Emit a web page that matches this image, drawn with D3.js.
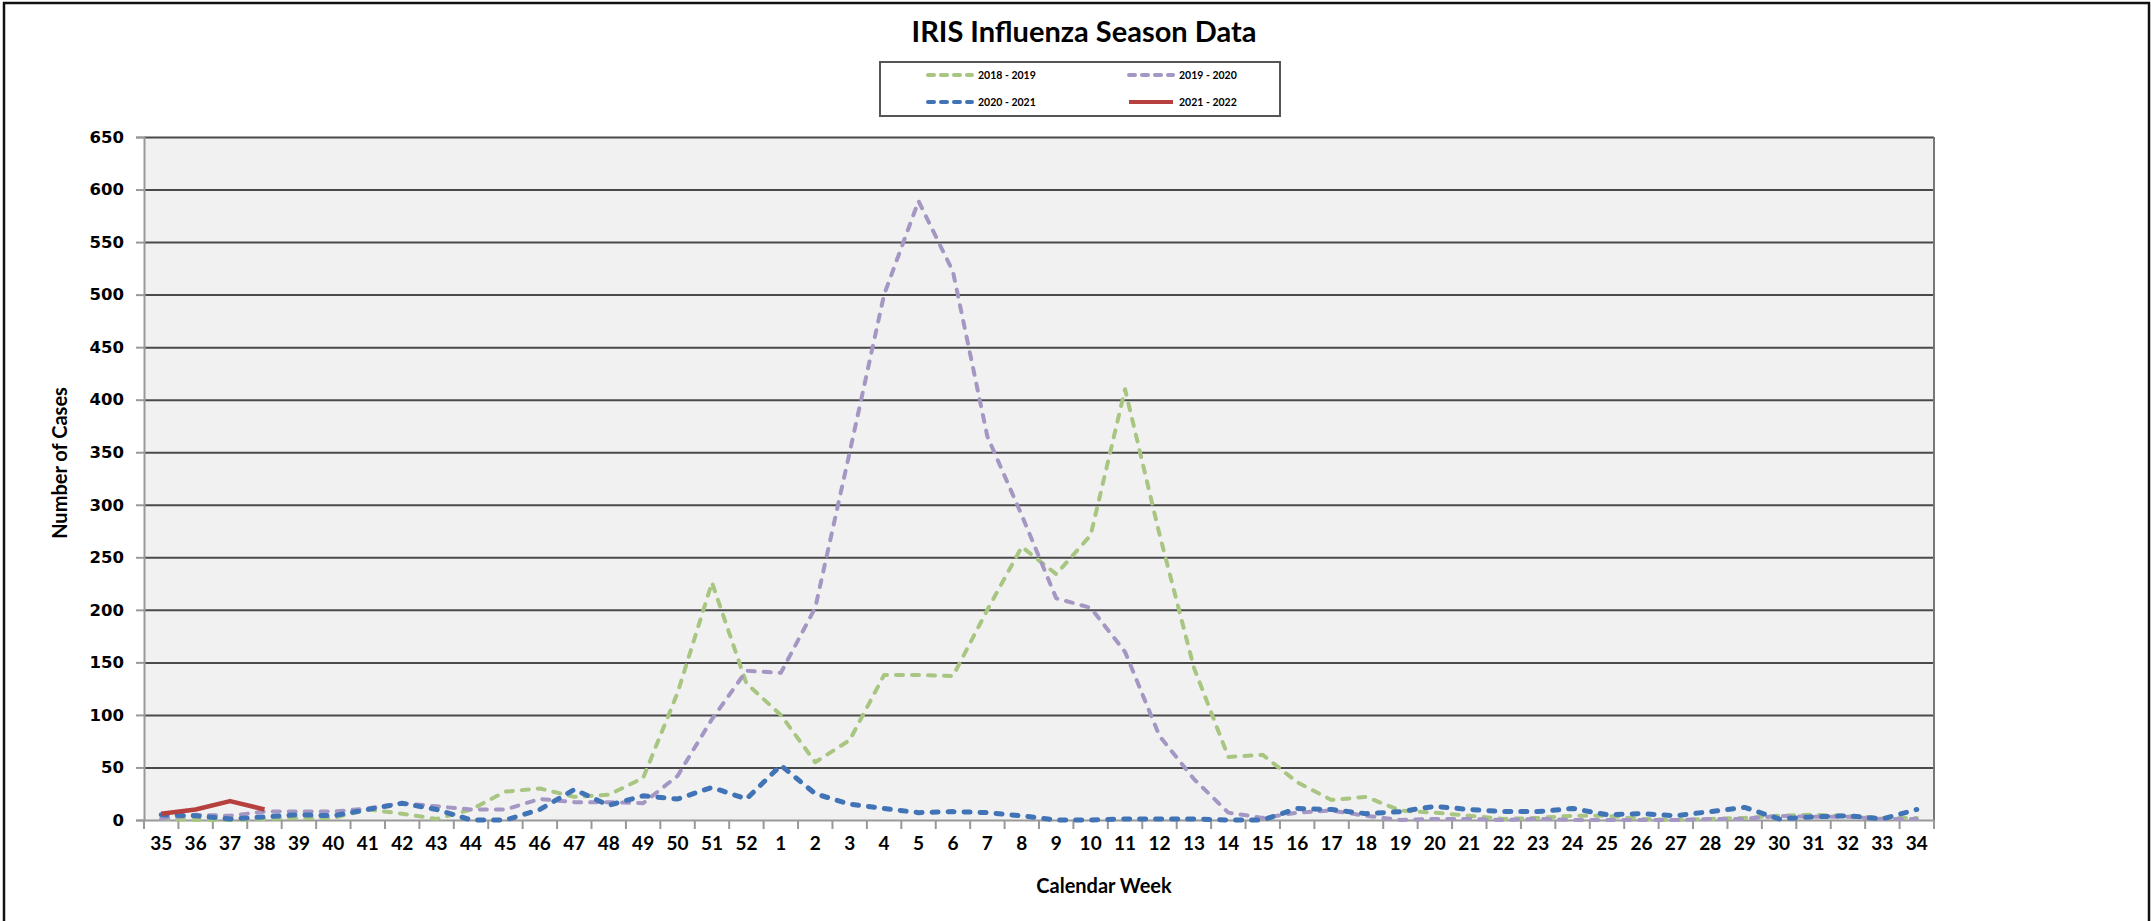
<!DOCTYPE html>
<html lang="en">
 <head>
  <meta charset="UTF-8">
  <title>IRIS Influenza Season Data</title>
  <style>
    body { margin: 0; background: #fff; }
    svg text { font-family: Lato, "Open Sans", sans-serif; font-weight: bold; fill: #000; }
  </style>
 </head>
 <body>
<svg width="2151" height="921"></svg>

<script src="https://cdn.jsdelivr.net/npm/d3@7/dist/d3.min.js"></script>
<script>
// calendar weeks of a season, 35 .. 52 then 1 .. 34
var weeks = [35,36,37,38,39,40,41,42,43,44,45,46,47,48,49,50,51,52,
             1,2,3,4,5,6,7,8,9,10,11,12,13,14,15,16,17,18,19,20,
             21,22,23,24,25,26,27,28,29,30,31,32,33,34];

var s2018 = [1,0,0,1,2,2,10,6,1,10,27,30,22,24,40,121,226,130,
             100,55,76,138,138,137,200,260,234,271,410,272,145,60,62,36,19,22,9,7,
             4,1,2,4,4,1,0,1,2,4,5,4,2,2];
var s2019 = [1,5,4,8,8,8,11,16,13,10,10,20,17,17,16,42,96,142,
             140,202,350,500,589,522,365,290,211,202,160,80,39,7,2,7,9,4,0,1,
             1,0,1,0,0,0,0,1,1,4,3,3,1,1];
var s2020 = [5,4,1,3,5,4,10,16,10,0,0,10,29,14,23,20,31,20,
             52,25,15,11,7,8,7,4,0,0,1,1,1,0,0,11,10,6,8,13,
             10,8,8,11,5,6,4,8,12,1,3,4,1,10];
var s2021 = [6,10,18,10];

var yTicks = [0,50,100,150,200,250,300,350,400,450,500,550,600,650];

var seriesNames = ["2018 - 2019", "2019 - 2020", "2020 - 2021", "2021 - 2022"];
var seriesColors = ["#a8c682", "#a497c3", "#4174b6", "#b5403d"];

var svg = d3.select("svg");

// outer frame
svg.append("rect")
    .attr("x", 4).attr("y", 3).attr("width", 2145).attr("height", 940)
    .attr("fill", "none").attr("stroke", "#111").attr("stroke-width", 2.5);

var plotLeft = 144, plotRight = 1934, plotTop = 137, plotBottom = 820;

var x = d3.scaleBand().domain(weeks).range([plotLeft, plotRight]);
var y = d3.scaleLinear().domain([0, 650]).range([plotBottom, plotTop]);

// plot background
svg.append("rect")
    .attr("x", plotLeft).attr("y", plotTop)
    .attr("width", plotRight - plotLeft).attr("height", plotBottom - plotTop)
    .attr("fill", "#f1f1f1");

// gridlines
svg.append("g")
    .attr("transform", "translate(" + plotLeft + ",0)")
    .call(d3.axisLeft(y).tickValues(yTicks.slice(1)).tickSize(-(plotRight - plotLeft)).tickFormat(""))
    .call(function(g){
      g.select(".domain").remove();
      g.selectAll("line").attr("stroke", "#4a4a4a").attr("stroke-width", 2);
    });

// right border of plot
svg.append("line")
    .attr("x1", plotRight).attr("x2", plotRight).attr("y1", plotTop).attr("y2", plotBottom)
    .attr("stroke", "#777").attr("stroke-width", 2);

// y axis with small outside ticks
svg.append("g")
    .attr("transform", "translate(" + plotLeft + ",0)")
    .call(d3.axisLeft(y).tickValues(yTicks).tickSize(8).tickPadding(12))
    .call(function(g){
      g.select(".domain").attr("stroke", "#999").attr("stroke-width", 2);
      g.selectAll("line").attr("stroke", "#999").attr("stroke-width", 2);
      g.selectAll("text")
        .style("font-family", "'DejaVu Sans', Verdana, sans-serif")
        .style("font-weight", "bold")
        .attr("font-size", 16.5);
    });

// x axis: labels at band centres, ticks at band edges
svg.append("g")
    .attr("transform", "translate(0," + plotBottom + ")")
    .call(d3.axisBottom(x).tickSize(0).tickPadding(17))
    .call(function(g){
      g.select(".domain").attr("stroke", "#999").attr("stroke-width", 2);
      g.selectAll("text").attr("font-size", 19);
    });

var edges = weeks.map(function(w){ return x(w); }).concat([plotRight]);
svg.append("g").selectAll("line").data(edges).enter().append("line")
    .attr("x1", function(d){ return d; }).attr("x2", function(d){ return d; })
    .attr("y1", plotBottom).attr("y2", plotBottom + 9)
    .attr("stroke", "#999").attr("stroke-width", 2);

// lines
var line = d3.line()
    .x(function(d, i){ return x(weeks[i]) + x.bandwidth() / 2; })
    .y(function(d){ return y(d); });

var all = [s2018, s2019, s2020, s2021];
var dashes = ["7,9", "7,9", "6,10", null];
var widths = [4, 4, 5, 4.5];

all.forEach(function(s, k){
  svg.append("path")
    .datum(s)
    .attr("d", line)
    .attr("fill", "none")
    .attr("stroke", seriesColors[k])
    .attr("stroke-width", widths[k])
    .attr("stroke-dasharray", dashes[k])
    .attr("stroke-linecap", k < 3 ? "round" : "butt")
    .attr("stroke-linejoin", "round");
});

// title and axis titles
svg.append("text")
    .attr("x", 1084).attr("y", 42)
    .attr("text-anchor", "middle")
    .attr("font-size", 29)
    .text("IRIS Influenza Season Data");

svg.append("text")
    .attr("x", 1104).attr("y", 893)
    .attr("text-anchor", "middle")
    .attr("font-size", 20)
    .text("Calendar Week");

svg.append("text")
    .attr("transform", "translate(67,463) rotate(-90)")
    .attr("text-anchor", "middle")
    .attr("font-size", 20)
    .text("Number of Cases");

// legend
var legend = svg.append("g");
legend.append("rect")
    .attr("x", 880).attr("y", 62).attr("width", 400).attr("height", 54)
    .attr("fill", "#fff").attr("stroke", "#555").attr("stroke-width", 2);

var legX = [926, 1127], legY = [75, 102];
seriesNames.forEach(function(name, k){
  var lx = legX[k % 2], ly = legY[Math.floor(k / 2)];
  legend.append("line")
    .attr("x1", lx + 2).attr("x2", lx + 46).attr("y1", ly).attr("y2", ly)
    .attr("stroke", seriesColors[k])
    .attr("stroke-width", 4)
    .attr("stroke-dasharray", k < 3 ? "6,7" : null)
    .attr("stroke-linecap", k < 3 ? "round" : "butt");
  legend.append("text")
    .attr("x", lx + 52).attr("y", ly + 4)
    .attr("font-size", 10.5)
    .text(name);
});
</script>
 </body>
</html>
